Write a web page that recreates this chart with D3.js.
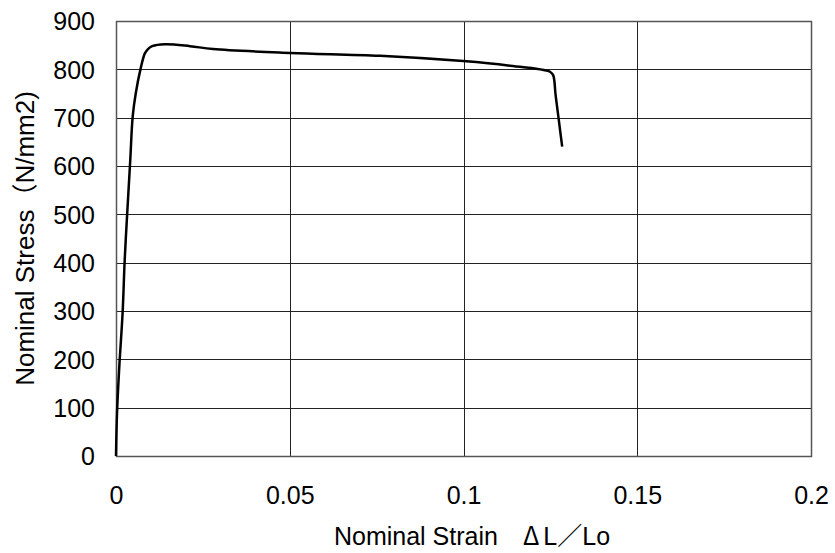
<!DOCTYPE html>
<html>
<head>
<meta charset="utf-8">
<script src="https://cdn.jsdelivr.net/npm/d3@7"></script>
<style>
  body { margin: 0; background: #fff; }
  svg { display: block; }
</style>
</head>
<body>
<svg id="chart"></svg>
<script>
// strain (ΔL/Lo) and nominal stress (N/mm2)
const strain = [0, 0.0003, 0.00095, 0.0019, 0.0025, 0.0032, 0.0041, 0.0048, 0.0057, 0.0071, 0.0083, 0.0092, 0.0104, 0.0141, 0.0213,
                0.0279, 0.0501, 0.076, 0.0999, 0.1128, 0.1249, 0.1258, 0.1265, 0.1273, 0.1284];
const stress = [0, 90, 185, 296, 405, 499, 612, 702, 751, 802, 833, 842, 848, 852, 848,
                842, 834, 828, 817, 808, 795, 788, 747, 702, 640];

const xTicks = [0, 0.05, 0.1, 0.15, 0.2];
const yTicks = [0, 100, 200, 300, 400, 500, 600, 700, 800, 900];
const xTitle = ["Nominal Strain\u3000", "\u0394", "L", "\uFF0F", "Lo"];
const yTitle = "Nominal Stress\uFF08N/mm2)";

const width = 835, height = 553;
const margin = {top: 21, right: 24, bottom: 97, left: 116};
const font = "'Liberation Sans', Arial, 'Noto Sans CJK JP', sans-serif";
const cjk = "'Noto Sans CJK JP', sans-serif";

const svg = d3.select("#chart")
    .attr("width", width)
    .attr("height", height)
    .attr("font-family", font);

const x = d3.scaleLinear()
    .domain([0, 0.2])
    .range([margin.left, width - margin.right]);

const y = d3.scaleLinear()
    .domain([0, 900])
    .range([height - margin.bottom, margin.top]);

// grid
svg.append("g")
    .selectAll("line")
    .data(yTicks)
    .join("line")
    .attr("x1", x(0)).attr("x2", x(0.2))
    .attr("y1", d => Math.round(y(d)) + 0.5).attr("y2", d => Math.round(y(d)) + 0.5)
    .attr("stroke", "#222").attr("stroke-width", 1);

svg.append("g")
    .selectAll("line")
    .data(xTicks)
    .join("line")
    .attr("x1", d => Math.round(x(d)) + 0.5).attr("x2", d => Math.round(x(d)) + 0.5)
    .attr("y1", y(0)).attr("y2", y(900))
    .attr("stroke", "#222").attr("stroke-width", 1);

// plot border
svg.append("rect")
    .attr("x", x(0) + 0.5).attr("y", y(900) + 0.5)
    .attr("width", x(0.2) - x(0)).attr("height", y(0) - y(900))
    .attr("fill", "none").attr("stroke", "#555").attr("stroke-width", 1.5);

// tick labels via d3 axes
svg.append("g")
    .attr("transform", "translate(0,504)")
    .call(d3.axisBottom(x).tickValues(xTicks).tickFormat(d => d3.format("")(d)).tickSize(0))
    .call(g => g.select(".domain").remove())
    .call(g => g.selectAll("text")
        .attr("font-family", font).attr("font-size", 25).attr("fill", "#000").attr("y", 0).attr("dy", 0));

svg.append("g")
    .attr("transform", "translate(95,0)")
    .call(d3.axisLeft(y).tickValues(yTicks).tickSize(0))
    .call(g => g.select(".domain").remove())
    .call(g => g.selectAll("text")
        .attr("font-family", font).attr("font-size", 25).attr("fill", "#000").attr("x", 0).attr("dy", "0.35em"));

// curve
const line = d3.line()
    .x((d, i) => x(strain[i]))
    .y(d => y(d))
    .curve(d3.curveCatmullRom.alpha(0.5));

svg.append("path")
    .datum(stress)
    .attr("d", line)
    .attr("fill", "none")
    .attr("stroke", "#000")
    .attr("stroke-width", 2.5)
    .attr("stroke-linejoin", "round");

// titles
const xt = svg.append("text")
    .attr("x", 472)
    .attr("y", 545)
    .attr("text-anchor", "middle")
    .attr("font-size", 25);
xt.selectAll("tspan")
    .data(xTitle)
    .join("tspan")
    .attr("font-family", (d, i) => i % 2 === 1 ? cjk : font)
    .attr("dx", (d, i) => i === 2 ? 4 : 0)
    .text(d => d);

svg.append("text")
    .attr("transform", `translate(34,${(y(0) + y(900)) / 2}) rotate(-90)`)
    .attr("text-anchor", "middle")
    .attr("font-size", 26)
    .text(yTitle);
</script>
</body>
</html>
